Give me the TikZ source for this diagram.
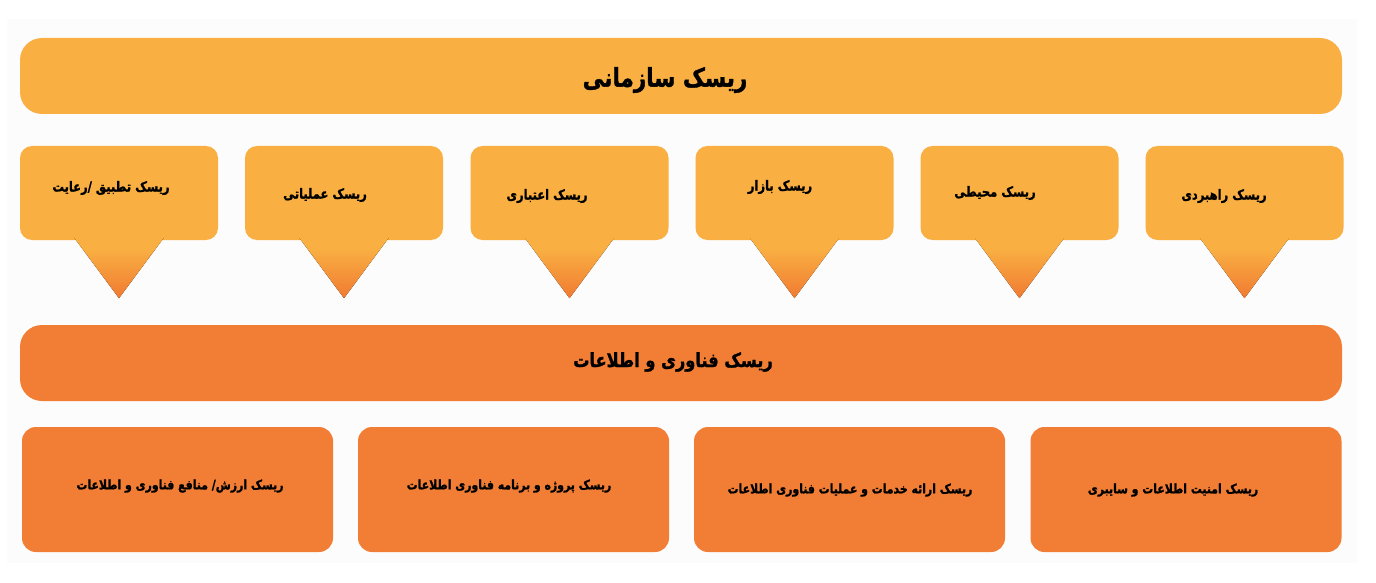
\documentclass[tikz,border=0pt]{standalone}
\usepackage{fontspec}
\newfontfamily\arabicfont[Script=Arabic, BoldFeatures={FakeBold=1.5}]{DejaVu Sans}
\TeXXeTstate=1
\usetikzlibrary{calc}
\definecolor{lightor}{HTML}{F9AF42}
\definecolor{darkor}{HTML}{F27E36}
\definecolor{tipor}{HTML}{F07A32}
\definecolor{bgc}{HTML}{FCFCFC}
\pgfdeclareverticalshading{trishade}{100bp}{color(0bp)=(tipor); color(25bp)=(tipor); color(66bp)=(lightor); color(100bp)=(lightor)}
\tikzset{
  bar/.style={rounded corners=22pt, minimum width=1322pt, minimum height=76pt, inner sep=0pt},
  cbox/.style={fill=lightor, rounded corners=12pt, minimum width=198pt, minimum height=94pt, inner sep=0pt},
  bbox/.style={fill=darkor, rounded corners=14pt, minimum width=311pt, minimum height=125pt, inner sep=0pt},
  txt/.style={inner sep=0pt, text=black, yscale=1.2, transform shape, font=\arabicfont\bfseries},
  ctxt/.style={txt, font=\arabicfont\bfseries\fontsize{11.5}{13}\selectfont},
  btxt/.style={txt, font=\arabicfont\bfseries\fontsize{10.9}{13}\selectfont},
}
\begin{document}
\begin{tikzpicture}[x=1pt,y=-1pt]
\useasboundingbox (0,0) rectangle (1376,583);
\fill[white] (0,0) rectangle (1376,583);
\fill[bgc] (7,19) rectangle (1357,563);
% top bar
\node[bar, fill=lightor] (org) at (681,76) {};
\node[txt, font=\arabicfont\bfseries\fontsize{21.5}{25}\selectfont] (orgt) at (665,80) {\beginR ریسک سازمانی\endR};
% callouts
\foreach \i/\x in {1/119, 2/344, 3/569.5, 4/794.5, 5/1019.5, 6/1244.5}{
  \node[cbox] (c\i) at (\x,193) {};
  \fill[shading=trishade] ($(c\i.south)+(-44.5,-2)$) -- ($(c\i.south)+(44.5,-2)$) -- ($(c\i.south)+(0,58)$) -- cycle;
}
\node[ctxt] (t1) at (111,188) {\beginR ریسک تطبیق /رعایت\endR};
\node[ctxt] (t2) at (325,195) {\beginR ریسک عملیاتی\endR};
\node[ctxt] (t3) at (547,196) {\beginR ریسک اعتباری\endR};
\node[ctxt] (t4) at (780,187) {\beginR ریسک بازار\endR};
\node[ctxt] (t5) at (995,193) {\beginR ریسک محیطی\endR};
\node[ctxt] (t6) at (1224,196) {\beginR ریسک راهبردی\endR};
% IT bar
\node[bar, fill=darkor] (it) at (681,363) {};
\node[txt, font=\arabicfont\bfseries\fontsize{16.2}{19}\selectfont] (itt) at (673,362) {\beginR ریسک فناوری و اطلاعات\endR};
% bottom boxes
\node[bbox] (b1) at (177.5,489.5) {};
\node[bbox] (b2) at (513.5,489.5) {};
\node[bbox] (b3) at (849.5,489.5) {};
\node[bbox] (b4) at (1186,489.5) {};
\node[btxt] (bt1) at (180,486) {\beginR ریسک ارزش/ منافع فناوری  و اطلاعات\endR};
\node[btxt] (bt2) at (509,486) {\beginR ریسک  پروژه و  برنامه فناوری اطلاعات\endR};
\node[btxt] (bt3) at (850,490) {\beginR ریسک ارائه خدمات و عملیات فناوری اطلاعات\endR};
\node[btxt] (bt4) at (1173,490) {\beginR ریسک امنیت اطلاعات و سایبری\endR};
\end{tikzpicture}
\end{document}
